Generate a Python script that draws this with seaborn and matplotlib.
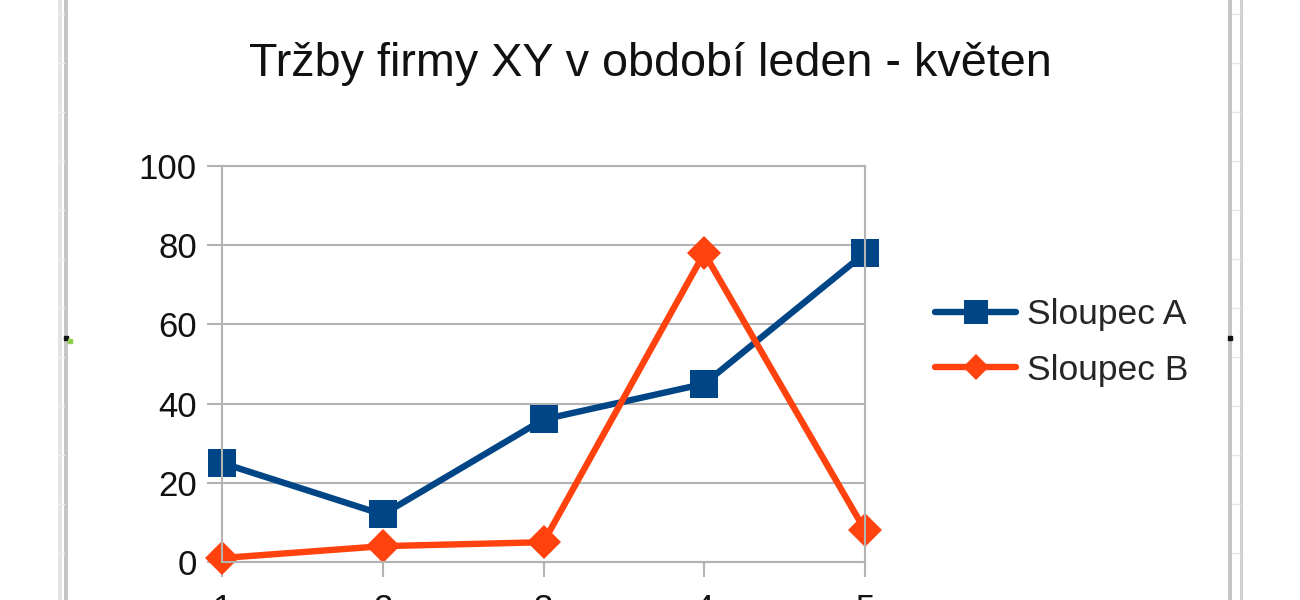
import matplotlib
matplotlib.use("Agg")
import matplotlib.pyplot as plt
from matplotlib.lines import Line2D
import pandas as pd
import seaborn as sns

# data
mesice = [1, 2, 3, 4, 5]
sloupec_a = [25, 12, 36, 45, 78]
sloupec_b = [1, 4, 5, 78, 8]
serie = ["Sloupec A", "Sloupec B"]
barvy = {"Sloupec A": "#004586", "Sloupec B": "#ff420e"}

df = pd.DataFrame({
    "mesic": mesice * 2,
    "hodnota": sloupec_a + sloupec_b,
    "serie": [serie[0]] * len(mesice) + [serie[1]] * len(mesice),
})

sns.set_style("white")
plt.rcParams["font.family"] = ["Liberation Sans", "DejaVu Sans"]

grid_col = "#b3b3b3"

fig = plt.figure(figsize=(13, 6), dpi=100)
ax = fig.add_axes([222 / 1300, 38 / 600, 643 / 1300, 396 / 600])

sns.lineplot(data=df, x="mesic", y="hodnota", hue="serie", style="serie",
             palette=barvy, markers={"Sloupec A": "s", "Sloupec B": "D"},
             dashes=False, linewidth=4.6, markersize=19.5, markeredgewidth=0,
             ax=ax, clip_on=False)
# diamond marker slightly smaller
for ln in ax.get_lines():
    if ln.get_marker() == "D":
        ln.set_markersize(17)

ax.set_xlim(1, 5)
ax.set_ylim(0, 100)
ax.set_yticks(range(0, 101, 20))
ax.set_xticks(mesice)
ax.set_xlabel("")
ax.set_ylabel("")
ax.yaxis.grid(True, color=grid_col, linewidth=1.5)
ax.xaxis.grid(False)
ax.set_axisbelow(True)
for sp in ax.spines.values():
    sp.set_color(grid_col)
    sp.set_linewidth(1.5)
ax.tick_params(axis="both", length=11, width=1.5, color=grid_col,
               labelsize=25, pad=7, labelcolor="#111111")
ax.tick_params(axis="x", bottom=True, pad=11)
ax.tick_params(axis="y", left=True)

handles, labels = ax.get_legend_handles_labels()
ax.get_legend().remove()
for h in handles:
    h.set_linewidth(4.6)
    h.set_markersize(17 if h.get_marker() == "s" else 13)
    h.set_markeredgewidth(0)
fig.legend(handles, labels, loc="center left",
           bbox_to_anchor=(935 / 1300, 1 - 342.5 / 600), frameon=False,
           fontsize=25.5, handlelength=2.3, handletextpad=0.3,
           labelspacing=0.63, borderpad=0, borderaxespad=0)

fig.text(0.5, 1 - 76 / 600, "Tržby firmy XY v období leden - květen",
         ha="center", va="baseline", fontsize=33.7, color="#111111")

# spreadsheet cell borders around the chart object
for x0, c, w in [(60, "#e3e3e3", 4), (66, "#c6c6c6", 4),
                 (1230, "#c6c6c6", 4), (1241, "#d0d0d0", 3)]:
    fig.add_artist(Line2D([x0 / 1300, x0 / 1300], [0, 1], color=c,
                          linewidth=w * 0.72, transform=fig.transFigure))
for y0 in range(14, 600, 49):
    fig.add_artist(Line2D([58 / 1300, 64 / 1300], [1 - y0 / 600] * 2,
                          color="#f0f0f0", linewidth=1,
                          transform=fig.transFigure))
    fig.add_artist(Line2D([1232 / 1300, 1240 / 1300], [1 - y0 / 600] * 2,
                          color="#e6e6e6", linewidth=1,
                          transform=fig.transFigure))
fig.add_artist(Line2D([66 / 1300], [1 - 338 / 600], marker="s",
                      markersize=3, color="#111111",
                      transform=fig.transFigure))
fig.add_artist(Line2D([70 / 1300], [1 - 341 / 600], marker="s",
                      markersize=3, color="#8ccf4a",
                      transform=fig.transFigure))
fig.add_artist(Line2D([1230 / 1300], [1 - 338 / 600], marker="s",
                      markersize=3, color="#111111",
                      transform=fig.transFigure))

fig.savefig("out.png", dpi=100)
